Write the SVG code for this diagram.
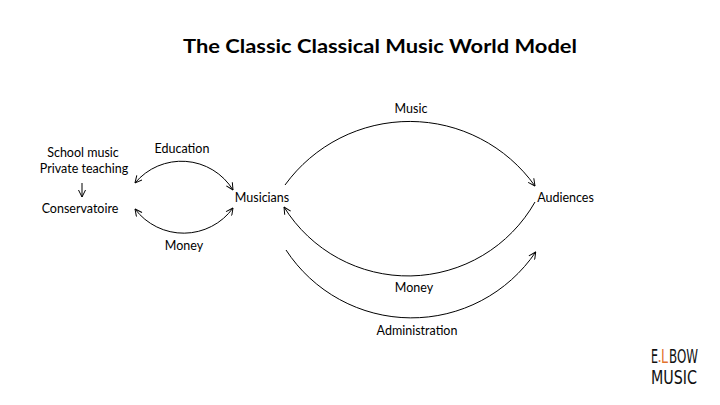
<svg xmlns="http://www.w3.org/2000/svg" width="720" height="405" viewBox="0 0 720 405">
<defs>
<style>
.t{font-family:Lato,"Open Sans","Liberation Sans",sans-serif;font-size:12.5px;fill:#000;text-anchor:middle}
.title{font-family:Lato,"Open Sans","Liberation Sans",sans-serif;font-size:18px;font-weight:700;fill:#000;text-anchor:middle}
.c{fill:none;stroke:#000;stroke-width:1}
.logo{font-family:"Liberation Sans Narrow","DejaVu Sans Condensed","Liberation Sans",sans-serif;font-size:19px;fill:#111}
.or{fill:#e2722e}
</style>
<marker id="ah" viewBox="0 0 8 8" markerWidth="8" markerHeight="8" refX="7.5" refY="4" orient="auto-start-reverse" markerUnits="userSpaceOnUse">
<path d="M0.5,0.5 L7.5,4 L0.5,7.5" fill="none" stroke="#000" stroke-width="1"/>
</marker>
</defs>
<rect width="720" height="405" fill="#fff"/>
<text class="title" x="380" y="53" textLength="394" lengthAdjust="spacingAndGlyphs">The Classic Classical Music World Model</text>
<g id="connectors">
<path class="c" d="M285 185 A154 154 0 0 1 535 186" marker-end="url(#ah)"/>
<path class="c" d="M535 202 A146 146 0 0 1 284 207" marker-end="url(#ah)"/>
<path class="c" d="M286 250 A150 150 0 0 0 535.7 252" marker-end="url(#ah)"/>
<path class="c" d="M135 183 A60.5 60.5 0 0 1 233 190" marker-start="url(#ah)" marker-end="url(#ah)"/>
<path class="c" d="M135 209 A61 61 0 0 0 233 208" marker-start="url(#ah)" marker-end="url(#ah)"/>
<line class="c" x1="82" y1="183" x2="82" y2="197" marker-end="url(#ah)"/>
</g>
<g id="labels">
<text class="t" x="182" y="153">Education</text>
<text class="t" x="184" y="250">Money</text>
<text class="t" x="411" y="113">Music</text>
<text class="t" x="414" y="292">Money</text>
<text class="t" x="417" y="335">Administration</text>
</g>
<g id="sources">
<text class="t" x="83" y="157">School music</text>
<text class="t" x="84" y="173">Private teaching</text>
<text class="t" x="80" y="213">Conservatoire</text>
</g>
<g id="musicians"><text class="t" x="262" y="202">Musicians</text></g>
<g id="audiences"><text class="t" x="565.5" y="202">Audiences</text></g>
<g id="logo">
<text class="logo" x="651" y="363" textLength="7" lengthAdjust="spacingAndGlyphs">E</text>
<circle cx="659.5" cy="361" r="1" class="or"/>
<text class="logo or" x="661" y="363" textLength="7" lengthAdjust="spacingAndGlyphs">L</text>
<text class="logo" x="669" y="363" textLength="29" lengthAdjust="spacingAndGlyphs">BOW</text>
<text class="logo" x="651" y="384" textLength="46" lengthAdjust="spacingAndGlyphs" font-size="21">MUSIC</text>
</g>
</svg>
